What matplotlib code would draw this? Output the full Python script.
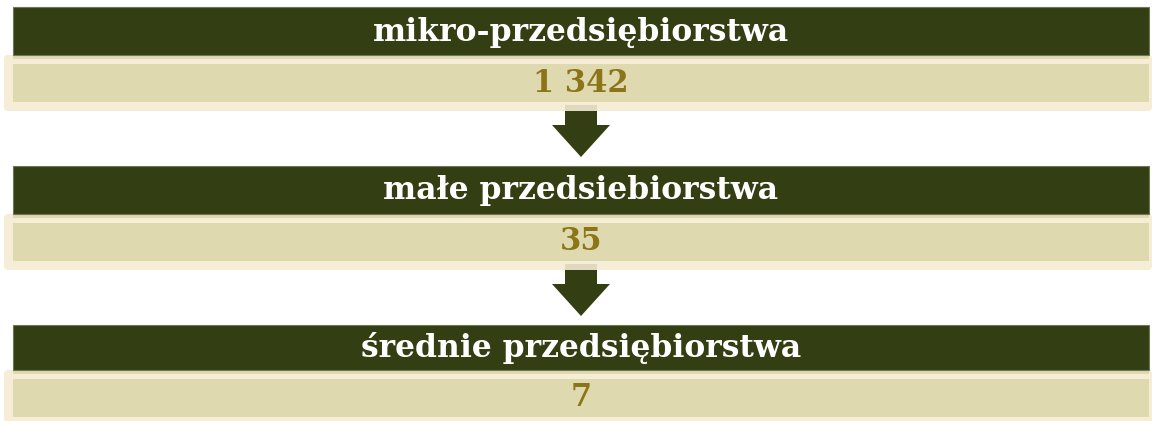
import matplotlib
matplotlib.use('Agg')
import matplotlib.pyplot as plt
from matplotlib.patches import Rectangle, FancyBboxPatch, Polygon

# data
categories = ['mikro-przedsiębiorstwa', 'małe przedsiebiorstwa', 'średnie przedsiębiorstwa']
values = [1342, 35, 7]

dark = '#333F13'
band_out = '#F5EBD3'
band_in = '#DFD9AF'
num_col = '#8C7519'

W, H = 1152, 421
fig = plt.figure(figsize=(W / 100, H / 100), dpi=100)
ax = fig.add_axes([0, 0, 1, 1])
ax.set_xlim(0, W)
ax.set_ylim(H, 0)
ax.axis('off')

step = 159
cx = 581
for i, (cat, val) in enumerate(zip(categories, values)):
    top = 7 + i * step
    hh = 48 if i < len(categories) - 1 else 45  # last header is a bit shorter
    bot = top + hh
    # header bar
    ax.add_patch(Rectangle((13, top), 1136, hh, facecolor=dark, edgecolor='#6F7659', lw=0.8, zorder=3))
    ax.text(cx, top + hh / 2 + 1, cat, color='white', fontsize=22.6, fontweight='bold', family='DejaVu Serif',
            ha='center', va='center', zorder=5)
    # value band
    ax.add_patch(FancyBboxPatch((4, bot), 1148, 56, boxstyle='round,pad=0,rounding_size=4',
                                facecolor=band_out, edgecolor='none', alpha=0.9, zorder=2))
    ax.add_patch(Rectangle((13, bot), 1136, 4, facecolor=band_in, edgecolor='none', zorder=2.5))
    ax.add_patch(Rectangle((13, bot + 9), 1136, 38, facecolor=band_in, edgecolor='none', zorder=2.5))
    ax.text(cx, bot + 28, f'{val:,}'.replace(',', ' '), color=num_col, fontsize=22, fontweight='bold',
            family='DejaVu Serif', ha='center', va='center', zorder=5)
    # arrow down to next block
    if i < len(categories) - 1:
        a_top = top + 98
        head_y = top + 118
        tip_y = top + 150
        ax.add_patch(Polygon([(565, a_top), (597, a_top), (597, head_y), (610, head_y),
                              (581, tip_y), (552, head_y), (565, head_y)],
                             closed=True, facecolor=dark, edgecolor='none', zorder=1))

fig.savefig('out.png', dpi=100)
